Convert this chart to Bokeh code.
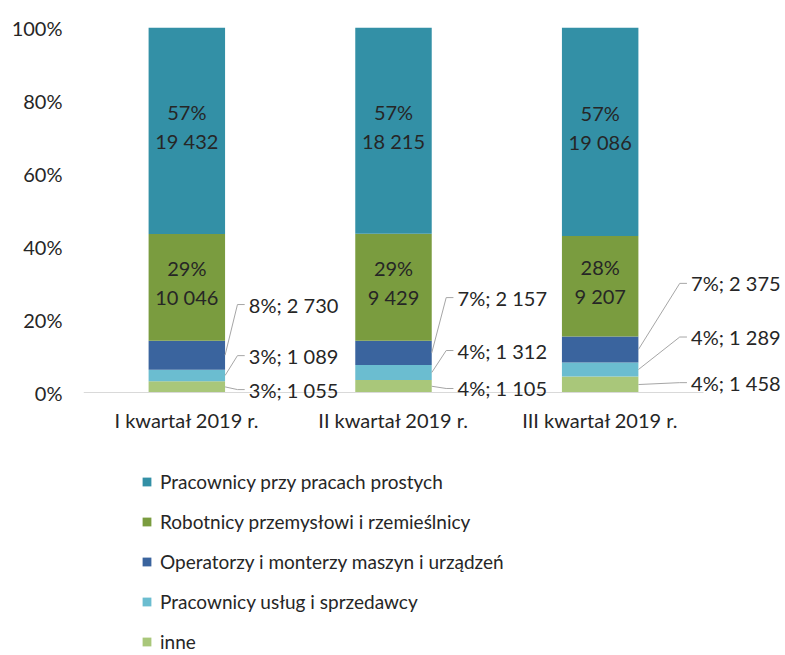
from bokeh.plotting import figure
from bokeh.layouts import column
from bokeh.models import (ColumnDataSource, Range1d, FixedTicker, Legend, LegendItem)
from bokeh.core.properties import value
from bokeh.embed import file_html
from bokeh.resources import INLINE

# ---------------- data ----------------
categories = ["I kwartał 2019 r.", "II kwartał 2019 r.", "III kwartał 2019 r."]
series = ["inne",
          "Pracownicy usług i sprzedawcy",
          "Operatorzy i monterzy maszyn i urządzeń",
          "Robotnicy przemysłowi i rzemieślnicy",
          "Pracownicy przy pracach prostych"]
inne = [1055, 1105, 1458]
uslugi = [1089, 1312, 1289]
operatorzy = [2730, 2157, 2375]
robotnicy = [10046, 9429, 9207]
proste = [19432, 18215, 19086]
# percentage labels as printed on the chart
pct_inne = [3, 4, 4]
pct_uslugi = [3, 4, 4]
pct_operatorzy = [8, 7, 7]
pct_robotnicy = [29, 29, 28]
pct_proste = [57, 57, 57]
y_ticks = [0, 0.2, 0.4, 0.6, 0.8, 1.0]

counts = [inne, uslugi, operatorzy, robotnicy, proste]
pcts = [pct_inne, pct_uslugi, pct_operatorzy, pct_robotnicy, pct_proste]

# ---------------- style / layout ----------------
colors = ["#A9C77A", "#6BBDD0", "#3A649E", "#7A9C3F", "#3390A6"]
FONT = "Lato"
FS = "20px"
TXT = "#262626"
BAR_W = 0.37
W = 785
H1, H2 = 455, 200           # chart part / legend part
LEFT, TOP = 83, 27          # frame left / position of 100 %
AX_W = 620                  # width of the category area (px)
ZERO_Y = 392                # pixel row of 0 %
BOTTOM = 401                # frame bottom (px)
# outside-label layout (fraction of axis) for the three small series per category
LBL_DX = [0.30, 0.31, 0.44]          # label start offset from bar centre
LBL_Y = [[0.008, 0.011, 0.027],      # inne
         [0.101, 0.115, 0.152],      # usługi
         [0.241, 0.260, 0.299]]      # operatorzy


def fmt(v):
    return f"{v:,}".replace(",", " ")


n = len(categories)
xs = [i + 0.5 for i in range(n)]
totals = [sum(c[i] for c in counts) for i in range(n)]
shares = [[c[i] / totals[i] for i in range(n)] for c in counts]

px_per_unit = AX_W / n
x_end = (W - LEFT) / px_per_unit
y_start = -(BOTTOM - ZERO_Y) / (ZERO_Y - TOP)

data = {"x": xs}
for name, sh in zip(series, shares):
    data[name] = sh
src = ColumnDataSource(data)

p = figure(width=W, height=H1, output_backend="svg", toolbar_location=None,
           x_range=Range1d(0, x_end), y_range=Range1d(y_start, 1),
           min_border_left=LEFT, min_border_right=0, min_border_top=TOP,
           min_border_bottom=H1 - BOTTOM, outline_line_color=None)
p.xgrid.visible = False
p.ygrid.visible = False

rends = p.vbar_stack(series, x="x", width=BAR_W, color=colors, source=src,
                     line_color=None)

# category axis baseline (only under the categories)
p.segment(x0=[0], y0=[0], x1=[n], y1=[0], line_color="#D9D9D9", line_width=1)

# axes
p.yaxis.ticker = FixedTicker(ticks=y_ticks)
p.yaxis.major_label_overrides = {t: f"{round(t * 100)}%" for t in y_ticks}
p.yaxis.axis_line_color = None
p.yaxis.major_tick_line_color = None
p.yaxis.minor_tick_line_color = None
p.yaxis.major_label_standoff = 15
p.xaxis.ticker = FixedTicker(ticks=xs)
p.xaxis.major_label_overrides = {x: c for x, c in zip(xs, categories)}
p.xaxis.axis_line_color = None
p.xaxis.major_tick_line_color = None
p.xaxis.minor_tick_line_color = None
p.xaxis.major_label_standoff = 0
for ax in (p.xaxis, p.yaxis):
    ax.major_label_text_font = FONT
    ax.major_label_text_font_size = FS
    ax.major_label_text_color = TXT

# inside labels (top two series)
in_x, in_y, in_t1, in_t2 = [], [], [], []
for k in (3, 4):
    for i in range(n):
        bottom = sum(shares[j][i] for j in range(k))
        in_x.append(xs[i])
        in_y.append(bottom + shares[k][i] / 2)
        in_t1.append(f"{pcts[k][i]}%")
        in_t2.append(fmt(counts[k][i]))
isrc = ColumnDataSource(dict(x=in_x, y=in_y, t1=in_t1, t2=in_t2))
for col, off in (("t1", -19), ("t2", 10)):
    p.text(x="x", y="y", text=col, source=isrc, text_align="center",
           text_baseline="middle", y_offset=off, text_font=value(FONT),
           text_font_size=FS, text_color=TXT)

# outside labels with leader lines
ox, oy, ot, lx, ly = [], [], [], [], []
for k in range(3):
    for i in range(n):
        bottom = sum(shares[j][i] for j in range(k))
        mid = bottom + shares[k][i] / 2
        edge = xs[i] + BAR_W / 2
        tx = xs[i] + LBL_DX[i]
        ty = LBL_Y[k][i]
        ox.append(tx)
        oy.append(ty)
        ot.append(f"{pcts[k][i]}%; {fmt(counts[k][i])}")
        lx.append([edge, tx - 0.055, tx - 0.02])
        ly.append([mid, ty, ty])
p.multi_line(xs=lx, ys=ly, line_color="#A6A6A6", line_width=1)
p.text(x=ox, y=oy, text=ot, text_align="left", text_baseline="middle",
       text_font=value(FONT), text_font_size=FS, text_color=TXT)

# legend part (separate strip below the chart, same series colours)
q = figure(width=W, height=H2, output_backend="svg", toolbar_location=None,
           x_range=Range1d(0, 1), y_range=Range1d(0, 1),
           x_axis_location=None, y_axis_location=None,
           min_border_left=0, min_border_right=0, min_border_top=0,
           min_border_bottom=0, outline_line_color=None)
q.xgrid.visible = False
q.ygrid.visible = False
# proxy glyphs lie outside the visible range; they only feed the legend swatches
proxies = [q.vbar(x=[5], top=[5], bottom=[4], width=0.1, color=c, line_color=None)
           for c in colors]
items = [LegendItem(label=s, renderers=[r]) for s, r in zip(series, proxies)][::-1]
legend = Legend(items=items, location=(58, 2), orientation="vertical",
                border_line_color=None, background_fill_alpha=0,
                glyph_width=11, glyph_height=11, label_standoff=8,
                label_height=24, spacing=16, padding=0, margin=0,
                label_text_font=FONT, label_text_font_size="19px",
                label_text_color=TXT)
q.add_layout(legend, "center")

layout = column(p, q, spacing=0)
open("out.html", "w").write(file_html(layout, INLINE))
